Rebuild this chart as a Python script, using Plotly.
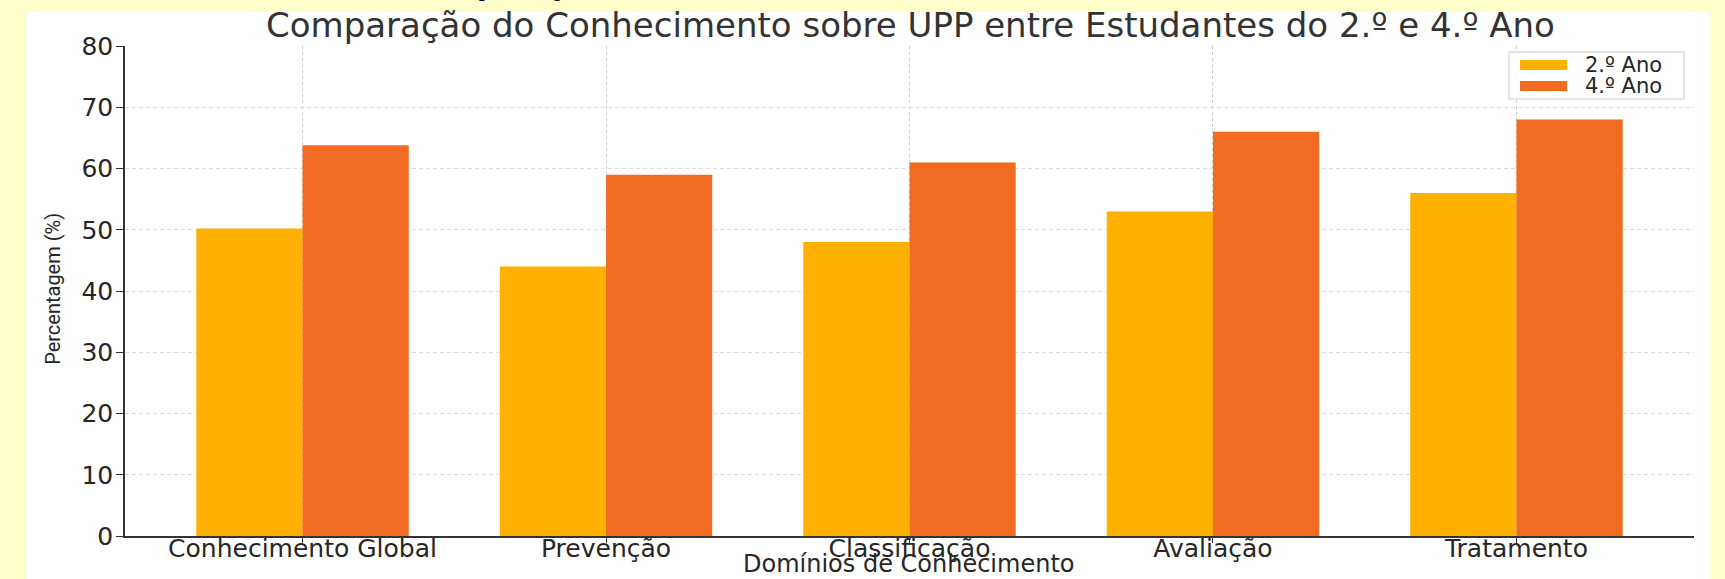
import plotly.graph_objects as go

# ---------------- data ----------------
categories = ["Conhecimento Global", "Prevenção", "Classificação", "Avaliação", "Tratamento"]
series_names = ["2.º Ano", "4.º Ano"]
ano2_values = [50.2, 44, 48, 53, 56]
ano4_values = [63.8, 59, 61, 66, 68]
y_ticks = [0, 10, 20, 30, 40, 50, 60, 70, 80]
title_text = "Comparação do Conhecimento sobre UPP entre Estudantes do 2.º e 4.º Ano"
x_title = "Domínios de Conhecimento"
y_title = "Percentagem (%)"
header_text = "Comparação"

# ---------------- geometry / style ----------------
W, H = 1725, 579
L, R = 125, 1694
T, B = 46, 536.3


def px(x):
    return (x - L) / (R - L)


def py(y):
    return (B - y) / (B - T)


colors = ["#FFB000", "#F26B22"]
font_family = "DejaVu Sans"

fig = go.Figure()
for name, vals, c in zip(series_names, [ano2_values, ano4_values], colors):
    fig.add_trace(go.Bar(x=categories, y=vals, name=name,
                         marker=dict(color=c, line=dict(width=0)),
                         showlegend=False))

fig.update_layout(
    width=W, height=H,
    margin=dict(l=L, r=W - R, t=T, b=H - B, pad=0),
    paper_bgcolor="#FFFFCC",
    plot_bgcolor="white",
    barmode="group", bargap=0.3, bargroupgap=0,
    font=dict(family=font_family, color="#262626"),
    showlegend=False,
)

fig.update_xaxes(
    type="category", range=[-0.585, 4.585],
    showgrid=True, gridcolor="#cccccc", griddash="dot", gridwidth=1,
    showline=True, linecolor="#333333", linewidth=1.6,
    ticks="outside", ticklen=5, tickcolor="#333333",
    ticklabelstandoff=-16,
    tickfont=dict(size=25, family=font_family, color="#262626"),
    automargin=False, zeroline=False,
)
fig.update_yaxes(
    range=[0, 80], tickmode="array", tickvals=y_ticks,
    showgrid=True, gridcolor="#dddddd", griddash="4px,3px", gridwidth=1,
    showline=True, linecolor="#333333", linewidth=1.6,
    ticks="outside", ticklen=7, tickcolor="#333333",
    ticklabelstandoff=-2,
    tickfont=dict(size=25, family=font_family, color="#262626"),
    automargin=False, zeroline=False,
)

shapes = []
# white image panel on the yellow page
shapes.append(dict(type="rect", xref="paper", yref="paper",
                   x0=px(26), x1=px(1710), y0=py(590), y1=py(12),
                   fillcolor="white", line=dict(width=0), layer="below"))
# legend box
shapes.append(dict(type="rect", xref="paper", yref="paper",
                   x0=px(1509), x1=px(1684), y0=py(99), y1=py(52),
                   fillcolor="rgba(255,255,255,0.85)", line=dict(color="#cccccc", width=1),
                   layer="above"))
legend_rows = [65, 86]
annotations = []
for name, c, yc in zip(series_names, colors, legend_rows):
    shapes.append(dict(type="rect", xref="paper", yref="paper",
                       x0=px(1520), x1=px(1567), y0=py(yc + 5), y1=py(yc - 5),
                       fillcolor=c, line=dict(width=0), layer="above"))
    annotations.append(dict(text=name, xref="paper", yref="paper", x=px(1583), y=py(yc),
                            xanchor="left", yanchor="middle", showarrow=False,
                            font=dict(size=21, family=font_family, color="#262626")))

annotations.append(dict(text=title_text, xref="paper", yref="paper", x=px(910), y=py(25),
                        xanchor="center", yanchor="middle", showarrow=False,
                        font=dict(size=34, family=font_family, color="#333333")))
annotations.append(dict(text=x_title, xref="paper", yref="paper", x=px(908), y=py(564),
                        xanchor="center", yanchor="middle", showarrow=False,
                        font=dict(size=24, family=font_family, color="#262626")))
annotations.append(dict(text=y_title, xref="paper", yref="paper", x=px(53), y=py(289),
                        xanchor="center", yanchor="middle", textangle=-90, showarrow=False,
                        font=dict(size=20, family="Roboto", color="#262626")))
annotations.append(dict(text="<b>" + header_text + "</b>", xref="paper", yref="paper",
                        x=px(406), y=py(-15), xanchor="left", yanchor="middle", showarrow=False,
                        font=dict(size=28, family=font_family, color="#000000")))

fig.update_layout(shapes=shapes, annotations=annotations)

fig.write_html(
    "out.html",
    config={"displayModeBar": False},
    post_script="document.body.style.margin='0';document.body.style.overflow='hidden';"
                "document.body.style.background='#FFFFCC';",
)
